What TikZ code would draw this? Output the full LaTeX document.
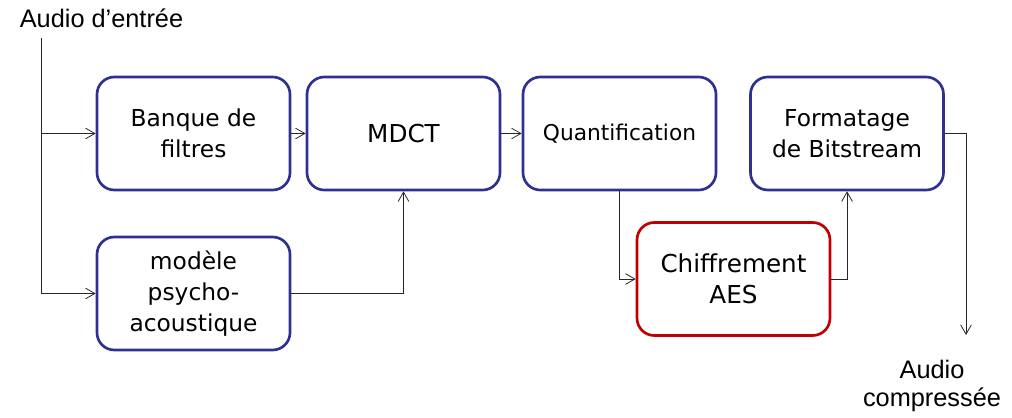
\documentclass[tikz,border=0pt]{standalone}
\usepackage{fontspec}
\setmainfont{Liberation Sans}
\newfontfamily\boxfont{DejaVu Sans}
\usetikzlibrary{arrows.meta}
\definecolor{boxblue}{RGB}{46,49,146}
\definecolor{boxred}{RGB}{192,0,0}
\tikzset{
  blockbox/.style={draw=boxblue, line width=2pt, rounded corners=13pt,
    minimum width=144.75pt, minimum height=84.75pt, inner sep=0pt,
    align=center, font=\boxfont\fontsize{17.5}{23.5}\selectfont},
  cryptbox/.style={blockbox, draw=boxred},
  flow/.style={draw=black!85, line width=0.6pt,
    -{Straight Barb[length=7pt,width=8pt]}},
  plainlabel/.style={font=\fontsize{19}{21}\selectfont, align=center, inner sep=0pt}
}
\begin{document}
\begin{tikzpicture}[x=0.75pt,y=-0.75pt]
\useasboundingbox (0,0) rectangle (1012,417);

% processing blocks
\node[blockbox] (banque) at (193.5,133.5) {Banque de\\filtres};
\node[blockbox, font=\boxfont\fontsize{18.5}{23.5}\selectfont] (mdct) at (403.5,133.5) {MDCT};
\node[blockbox, font=\boxfont\fontsize{16.3}{20}\selectfont] (quant) at (619.5,133.5) {Quantification};
\node[blockbox] (format) at (847,133.5) {Formatage\\de Bitstream};
\node[blockbox] (modele) at (193.5,293.5) {modèle\\psycho-\\acoustique};
\node[cryptbox, font=\boxfont\fontsize{18.5}{23.5}\selectfont] (aes) at (733.5,279) {Chiffrement\\AES};

% input / output labels
\node[plainlabel] (inlabel) at (101.5,18) {Audio d’entrée};
\node[plainlabel] (outlabel) at (932,386) {Audio\\compressée};
\coordinate (in0) at (41,38);
\coordinate (out0) at (966,335);

% signal flow
\draw[flow] (in0) |- (banque.west);
\draw[flow] (in0) |- (modele.west);
\draw[flow] (banque.east) -- (mdct.west);
\draw[flow] (mdct.east) -- (quant.west);
\draw[flow] (modele.east) -| (mdct.south);
\draw[flow] (quant.south) |- (aes.west);
\draw[flow] (aes.east) -| (format.south);
\draw[flow] (format.east) -| (out0);
\end{tikzpicture}
\end{document}
